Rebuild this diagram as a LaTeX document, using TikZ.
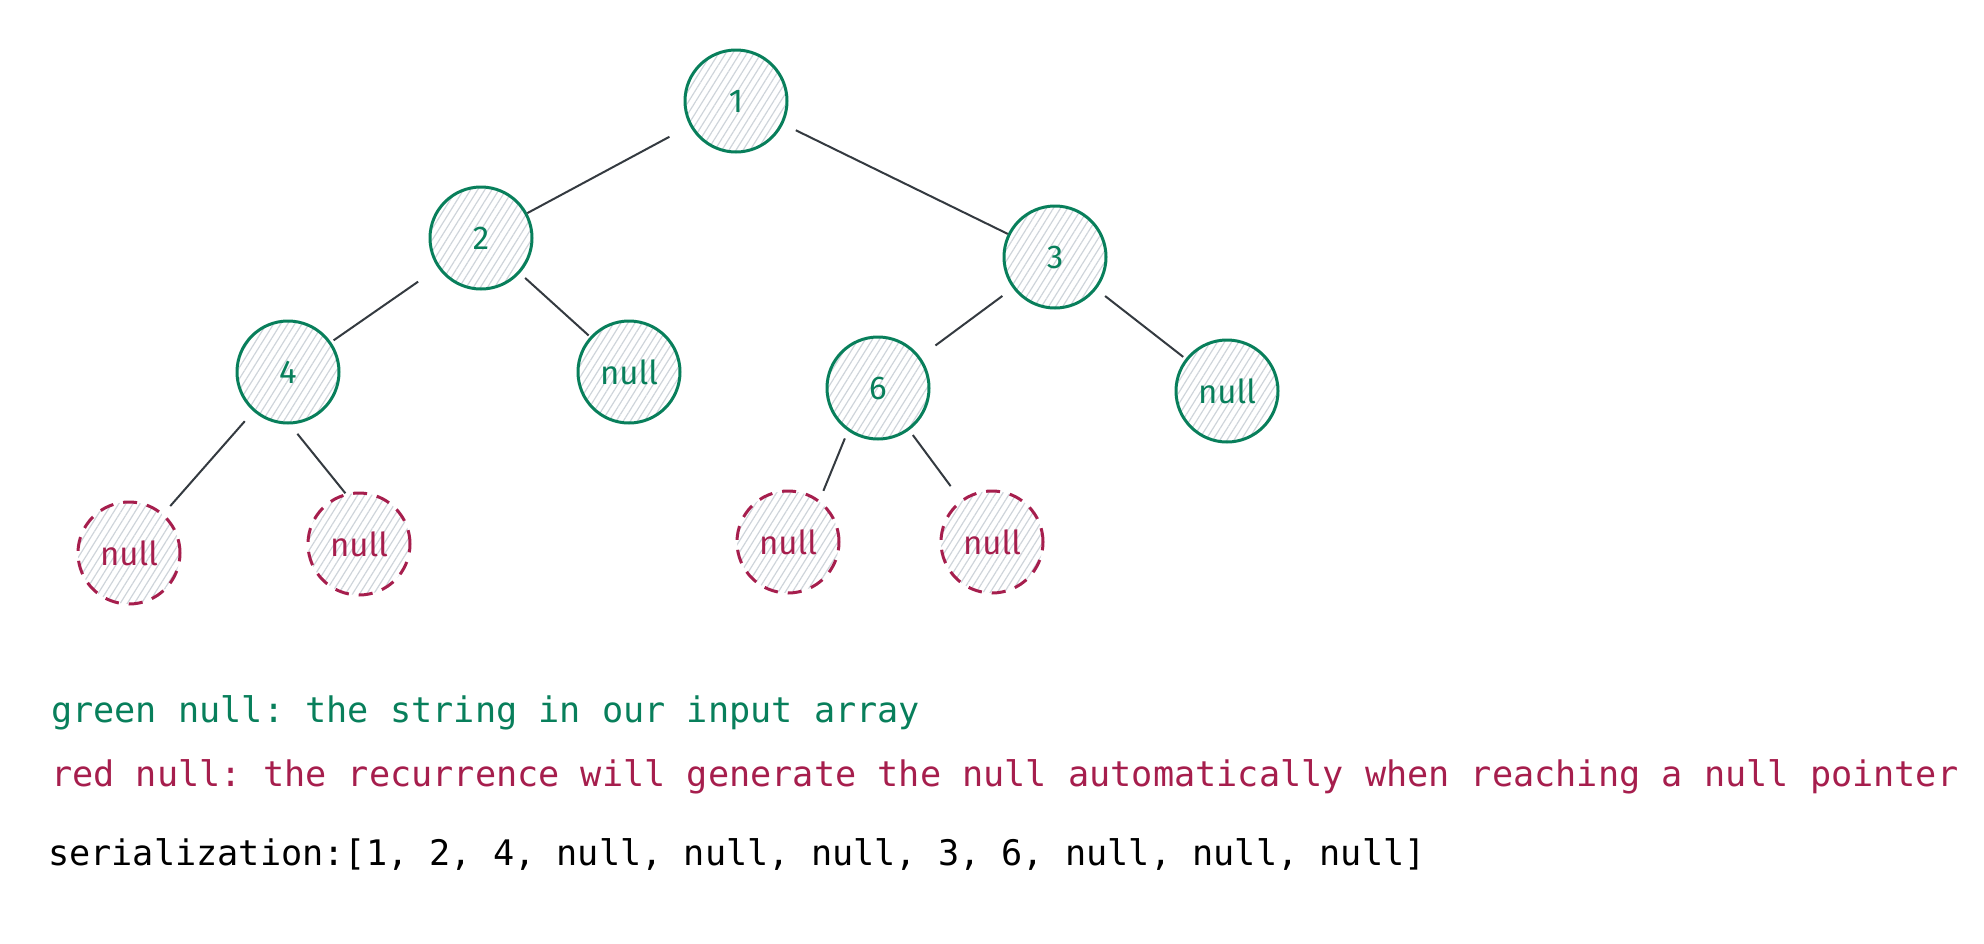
\documentclass[tikz,border=0pt]{standalone}
\usepackage{fontspec}
\setmonofont{DejaVu Sans Mono}
\newfontfamily\handfont{Fira Sans}
\usetikzlibrary{patterns.meta}
\definecolor{exgreen}{HTML}{087F5B}
\definecolor{exred}{HTML}{A61E4D}
\definecolor{edgegray}{HTML}{343A40}
\definecolor{hatchgray}{HTML}{CED4DA}
\tikzset{
  treenode/.style={circle, minimum size=102pt, inner sep=0pt, line width=3pt,
    pattern={Lines[angle=58,distance=6pt,line width=1.2pt]}, pattern color=hatchgray,
    font=\handfont\fontsize{33}{33}\selectfont},
  realnode/.style={treenode, draw=exgreen, text=exgreen},
  nullnode/.style={treenode, draw=exred, text=exred, dash pattern=on 14pt off 10pt},
  edge/.style={draw=edgegray, line width=2pt},
  caption/.style={anchor=base west, inner sep=0pt, font=\ttfamily\fontsize{35.2}{40}\selectfont}
}
\begin{document}
\begin{tikzpicture}[x=1pt,y=-1pt]
\useasboundingbox (0,0) rectangle (1984,943);
\node[realnode] (n1) at (736,101) {1};
\node[realnode] (n2) at (481,238) {2};
\node[realnode] (n3) at (1055,257) {3};
\node[realnode] (n4) at (288,372) {4};
\node[realnode] (n2r) at (629,372) {null};
\node[realnode] (n6) at (878,388) {6};
\node[realnode] (n3r) at (1227,391) {null};
\node[nullnode] (r1) at (129,553) {null};
\node[nullnode] (r2) at (359,544) {null};
\node[nullnode] (r3) at (788,542) {null};
\node[nullnode] (r4) at (992,542) {null};

\draw[edge, shorten <=24pt] (n1) -- (n2);
\draw[edge, shorten <=15pt] (n1) -- (n3);
\draw[edge, shorten <=24pt, shorten >=3pt] (n2) -- (n4);
\draw[edge, shorten <=7pt, shorten >=2pt] (n2) -- (n2r);
\draw[edge, shorten <=13pt, shorten >=19pt] (n3) -- (n6);
\draw[edge, shorten <=11pt, shorten >=3pt] (n3) -- (n3r);
\draw[edge, shorten <=13pt, shorten >=10pt] (n4) -- (r1);
\draw[edge, shorten <=12pt] (n4.-88) -- (r2.105);
\draw[edge, shorten <=8pt, shorten >=10pt] (n6.-125) -- (r3.53);
\draw[edge, shorten <=6pt, shorten >=17pt] (n6) -- (r4);

\node[caption, text=exgreen] (c1) at (51,722) {green null: the string in our input array};
\node[caption, text=exred] (c2) at (51,786) {red null: the recurrence will generate the null automatically when reaching a null pointer};
\node[caption, text=black] (c3) at (48,865) {serialization:[1, 2, 4, null, null, null, 3, 6, null, null, null]};
\end{tikzpicture}
\end{document}
